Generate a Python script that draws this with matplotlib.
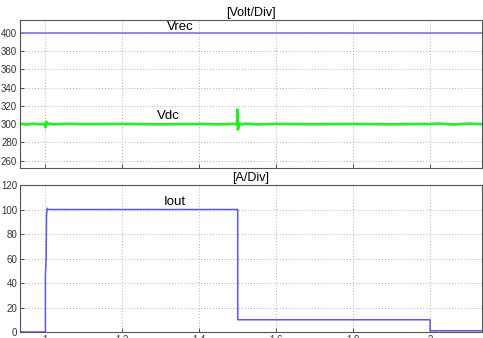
import matplotlib
matplotlib.use("Agg")
import matplotlib.pyplot as plt

plt.rcParams['font.family'] = ['Liberation Sans', 'DejaVu Sans']

# time base (s) and signals
vrec_t = [0.934, 2.135]
vrec_v = [400, 400]

vdc_t = [0.934, 0.95, 0.97, 0.985, 0.996, 0.999, 1.0, 1.002, 1.004, 1.007, 1.012, 1.02,
         1.05, 1.1, 1.2, 1.3, 1.4, 1.45, 1.49, 1.498, 1.4995, 1.5, 1.5005, 1.502, 1.505,
         1.51, 1.52, 1.55, 1.6, 1.7, 1.8, 1.9, 1.98, 2.0, 2.02, 2.06, 2.1, 2.135]
vdc_v = [300.5, 299.6, 300.4, 299.8, 300.2, 298.5, 296.5, 302.5, 302, 299.8, 300.5, 299.8,
         300.3, 300, 300.2, 299.8, 300.2, 299.8, 300.2, 300, 314, 316, 294, 297, 301,
         299.6, 300.4, 299.8, 300.2, 299.9, 300.2, 299.8, 300.2, 300, 300.6, 299.6, 300.5, 300]

iout_t = [0.934, 1.0, 1.0, 1.002, 1.003, 1.005, 1.007, 1.5, 1.5, 2.0, 2.0, 2.135]
iout_v = [0, 0, 46, 60, 95, 101, 100, 100, 10, 10, 1, 1]

xticks = [1, 1.2, 1.4, 1.6, 1.8, 2]
xticklabels = ['1', '1.2', '1.4', '1.6', '1.8', '2']
v_ticks = [260, 280, 300, 320, 340, 360, 380, 400]
i_ticks = [0, 20, 40, 60, 80, 100, 120]

fig = plt.figure(figsize=(4.83, 3.38), dpi=100)
ax1 = fig.add_axes([0.0414, 0.503, 0.9565, 0.4379])
ax2 = fig.add_axes([0.0414, 0.01775, 0.9565, 0.4349])

for ax in (ax1, ax2):
    ax.set_xlim(0.934, 2.135)
    ax.set_xticks(xticks)
    ax.grid(True, linestyle=(0, (1, 2.5)), color='#999999', linewidth=0.6)
    ax.tick_params(direction='in', length=3, width=0.6, labelsize=7, pad=2,
                   colors='#333333', top=False, right=False)
    for s in ax.spines.values():
        s.set_color('#555555')
        s.set_linewidth(0.8)

ax1.plot(vrec_t, vrec_v, color='#7777dd', linewidth=1.2)
ax1.plot(vdc_t, vdc_v, color='#22ee22', linewidth=1.9)
ax1.set_ylim(252, 414)
ax1.set_yticks(v_ticks)
ax1.set_xticklabels([])
ax1.set_title('[Volt/Div]', fontsize=9, pad=3)
ax1.text(1.35, 406.5, 'Vrec', fontsize=9.5, ha='center', va='center')
ax1.text(1.319, 309, 'Vdc', fontsize=9.5, ha='center', va='center')

ax2.plot(iout_t, iout_v, color='#5a5ae0', linewidth=1.1)
ax2.set_ylim(0, 120)
ax2.set_yticks(i_ticks)
ax2.set_xticklabels(xticklabels)
ax2.set_title('[A/Div]', fontsize=9, pad=3)
ax2.text(1.337, 106.5, 'Iout', fontsize=9.5, ha='center', va='center')

fig.savefig('out.png', dpi=100, facecolor='white')
